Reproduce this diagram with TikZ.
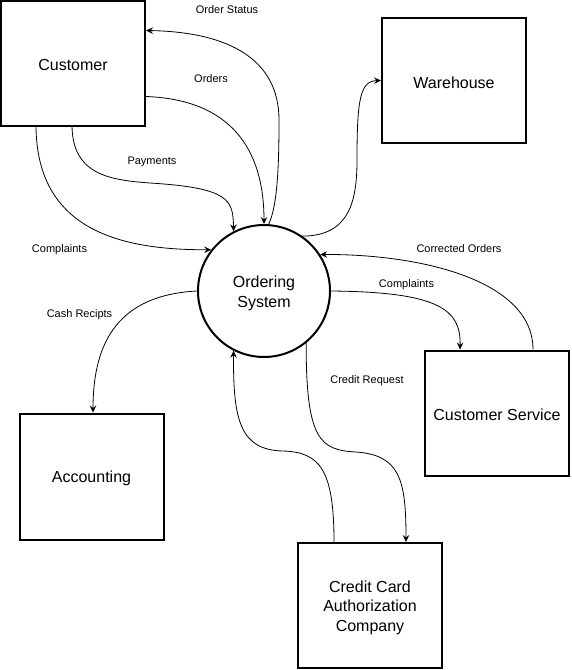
\documentclass[tikz,border=0pt]{standalone}
\usepackage{fontspec}
\setmainfont{Liberation Sans}
\usetikzlibrary{arrows.meta}
\newcommand{\tstrut}{\rule{0pt}{16pt}}
\begin{document}
\begin{tikzpicture}[x=1pt,y=-1pt,
  box/.style={draw,line width=2pt,minimum width=144pt,minimum height=125pt,inner sep=0pt,font=\fontsize{16}{19.5}\selectfont,align=center},
  proc/.style={draw,circle,line width=2pt,minimum size=132pt,inner sep=0pt,font=\fontsize{16}{20}\selectfont,align=center},
  flow/.style={line width=0.8pt,-{Stealth[length=7pt,width=6.5pt,inset=2.5pt]}},
  lbl/.style={font=\fontsize{11}{13}\selectfont,inner sep=0pt}]
\useasboundingbox (0,0) rectangle (571,670);
\node[box] (cust) at (73,63) {\tstrut Customer};
\node[box] (wh) at (454,80.5) {\tstrut Warehouse};
\node[proc] (os) at (264,291) {\tstrut Ordering\\System};
\node[box,minimum height=126pt] (acc) at (91.5,476.5) {\tstrut Accounting};
\node[box] (cs) at (497,413) {\tstrut Customer Service};
\node[box] (cc) at (370,605.5) {\tstrut Credit Card\\Authorization\\Company};
% Order Status
\draw[flow] (os.86) .. controls (278,205) and (279,160) .. (279,120) .. controls (279,60) and (230,32) .. ([yshift=-31pt]cust.north east);
% Orders
\draw[flow] ([yshift=30pt]cust.south east) .. controls (240,100) and (264,160) .. (os.north);
% Payments
\draw[flow] ([xshift=72pt]cust.south west) .. controls (73,175) and (110,180) .. (150,183) .. controls (230,188) and (233,200) .. (os.117);
% Complaints left
\draw[flow] ([xshift=36pt]cust.south west) .. controls (37,230) and (120,250) .. (os.142);
% Warehouse
\draw[flow] (os.55) .. controls (350,236) and (357,200) .. (357,160) .. controls (357,100) and (360,81) .. (wh.west);
% Corrected Orders
\draw[flow] ([xshift=36pt]cs.north) .. controls (533,280) and (420,254) .. (os.33);
% Complaints right
\draw[flow] (os.east) .. controls (440,292) and (461,310) .. ([xshift=36pt]cs.north west);
% Cash Recipts
\draw[flow] (os.west) .. controls (120,295) and (93,340) .. ([xshift=1.5pt]acc.north);
% CC -> OS
\draw[flow] ([xshift=-36pt]cc.north) .. controls (334,470) and (320,452) .. (283,451) .. controls (240,450) and (233,420) .. (os.243);
% Credit Request
\draw[flow] (os.309) .. controls (306,440) and (320,450) .. (356,452) .. controls (400,455) and (406,480) .. ([xshift=36pt]cc.north);
% labels
\node[lbl] (l1) at (227,10) {Order Status};
\node[lbl] (l2) at (211,79) {Orders};
\node[lbl] (l3) at (152,162) {Payments};
\node[lbl] (l4) at (59.5,250) {Complaints};
\node[lbl] (l5) at (79.5,315) {Cash Recipts};
\node[lbl] (l6) at (459,249) {Corrected Orders};
\node[lbl] (l7) at (406.5,285) {Complaints};
\node[lbl] (l8) at (367,381) {Credit Request};
\end{tikzpicture}
\end{document}
